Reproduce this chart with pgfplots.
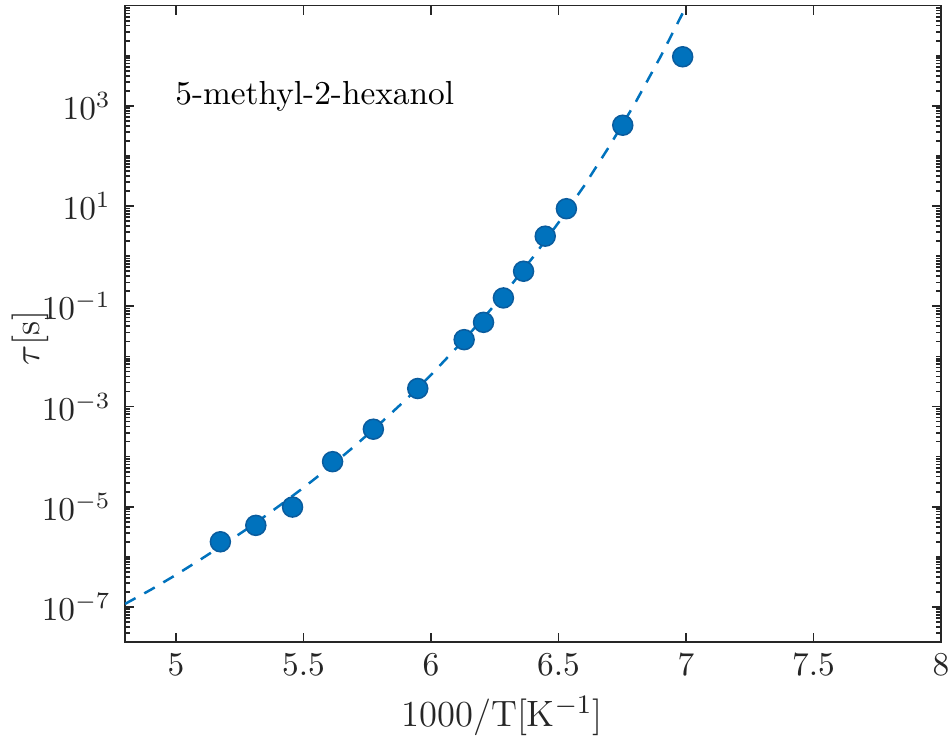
\documentclass[border=0pt]{standalone}
\usepackage{pgfplots}
\pgfplotsset{compat=1.18}
\definecolor{mblue}{HTML}{0072BD}
\definecolor{medge}{HTML}{0A5C9E}
\definecolor{axgray}{HTML}{262626}
\begin{document}
\begin{tikzpicture}
\path[use as bounding box] (-37.5pt,-29.4pt) rectangle (246.9pt,192.6pt);
\begin{axis}[
  at={(0,0)}, anchor=south west, scale only axis,
  width=244.8pt, height=190.9pt,
  ymode=log, xmin=4.8, xmax=8, ymin=2e-8, ymax=1e5,
  xtick={5,5.5,6,6.5,7,7.5,8},
  ytick={1e-7,1e-5,1e-3,1e-1,1e1,1e3},
  minor ytick={2e-8,3e-8,4e-8,5e-8,6e-8,7e-8,8e-8,9e-8,
    2e-7,3e-7,4e-7,5e-7,6e-7,7e-7,8e-7,9e-7,1e-6,
    2e-6,3e-6,4e-6,5e-6,6e-6,7e-6,8e-6,9e-6,
    2e-5,3e-5,4e-5,5e-5,6e-5,7e-5,8e-5,9e-5,1e-4,
    2e-4,3e-4,4e-4,5e-4,6e-4,7e-4,8e-4,9e-4,
    2e-3,3e-3,4e-3,5e-3,6e-3,7e-3,8e-3,9e-3,1e-2,
    2e-2,3e-2,4e-2,5e-2,6e-2,7e-2,8e-2,9e-2,
    0.2,0.3,0.4,0.5,0.6,0.7,0.8,0.9,1,
    2,3,4,5,6,7,8,9,
    20,30,40,50,60,70,80,90,100,
    200,300,400,500,600,700,800,900,
    2000,3000,4000,5000,6000,7000,8000,9000,1e4,
    2e4,3e4,4e4,5e4,6e4,7e4,8e4,9e4},
  axis line style={axgray, line width=0.5pt},
  tick style={axgray, line width=0.5pt},
  major tick length=2.7pt, minor tick length=1.5pt,
  tick label style={text=axgray, font=\fontsize{10}{12}\selectfont},
  yticklabel style={xshift=-0.7pt},
  label style={text=axgray, font=\fontsize{11}{13}\selectfont},
  xlabel={1000/T[K$^{-1}$]},
  ylabel={$\tau$[s]},
  xlabel style={at={(axis description cs:0.462,-0.1163)}, anchor=center},
  ylabel style={at={(axis description cs:-0.1164,0.4777)}, anchor=center},
  clip=true,
]
\addplot[mblue, line width=0.75pt, dash pattern=on 3.6pt off 3pt] coordinates {
  (4.8,1.15e-7) (4.9,2.19e-7) (5.0,4.37e-7) (5.1,9.12e-7) (5.2,1.95e-6)
  (5.3,4.27e-6) (5.4,1.00e-5) (5.5,2.40e-5) (5.6,6.03e-5) (5.7,1.62e-4)
  (5.8,4.57e-4) (5.9,1.35e-3) (6.0,4.27e-3) (6.1,1.48e-2) (6.2,5.37e-2)
  (6.3,0.214) (6.4,0.955) (6.5,4.68) (6.6,25.1) (6.7,158)
  (6.8,1122) (6.9,9550) (7.0,95500) (7.02,155000)
};
\addplot[only marks, mark=*, mark size=3pt,
  mark options={fill=mblue, draw=medge, line width=0.45pt}] coordinates {
  (5.174,2.0e-6) (5.313,4.25e-6) (5.457,9.86e-6) (5.614,7.94e-5)
  (5.774,3.53e-4) (5.948,2.29e-3) (6.130,2.16e-2) (6.206,4.79e-2)
  (6.284,0.147) (6.363,0.501) (6.448,2.51) (6.531,8.87)
  (6.752,411) (6.987,9550)
};
\node[anchor=base west, inner sep=0pt, font=\fontsize{10}{12}\selectfont]
  at (axis cs:4.995,1.08e3) {5-methyl-2-hexanol};
\end{axis}
\end{tikzpicture}
\end{document}
